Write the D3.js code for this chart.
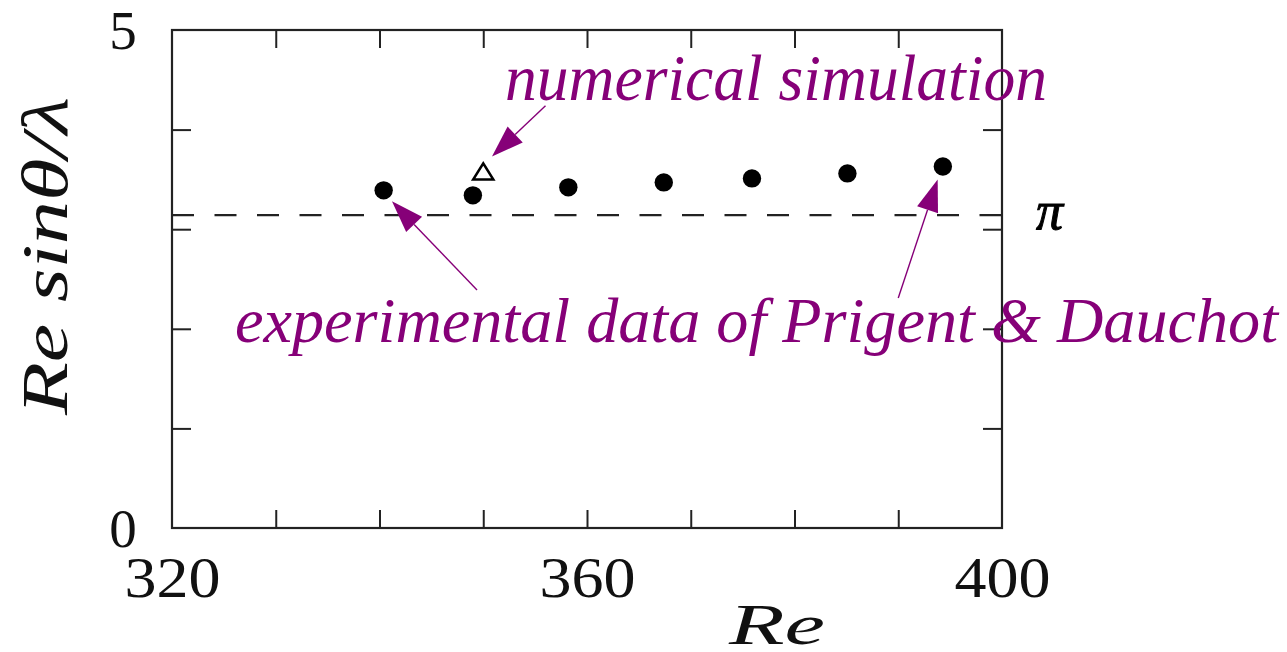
<!DOCTYPE html>
<html>
<head>
<meta charset="utf-8">
<script src="https://cdn.jsdelivr.net/npm/d3@7/dist/d3.min.js"></script>
<style>
  html, body { margin: 0; padding: 0; background: #fff; }
  svg { display: block; }
</style>
</head>
<body>
<svg id="chart" width="1287" height="652"></svg>
<script>
// Reynolds number of each measurement
const expRe = [340.4, 349.0, 358.2, 367.4, 375.9, 385.1, 394.3];
// Re sin(theta)/lambda for the experimental points
const expValues = [3.39, 3.34, 3.42, 3.47, 3.51, 3.56, 3.63];
// numerical simulation point
const simRe = [350.0];
const simValues = [3.58];
// reference level
const piLevel = [Math.PI];
// axis tick labels and minor ticks
const xLabelTicks = [320, 360, 400];
const xInnerTicks = [330, 340, 350, 360, 370, 380, 390];
const yLabelTicks = [0, 5];
const yInnerTicks = [1, 2, 3, 4];

const svg = d3.select("#chart");
const ink = "#222";
const purple = "#860078";

const x = d3.scaleLinear().domain([320, 400]).range([172, 1002]);
const y = d3.scaleLinear().domain([0, 5]).range([528, 30]);

// frame
svg.append("rect")
  .attr("x", x(320)).attr("y", y(5))
  .attr("width", x(400) - x(320)).attr("height", y(0) - y(5))
  .attr("fill", "none").attr("stroke", ink).attr("stroke-width", 2.2);

// inward ticks on all four sides
function innerTicks(axis, transform) {
  const g = svg.append("g").attr("transform", transform).call(axis);
  g.select(".domain").remove();
  g.selectAll("text").remove();
  g.selectAll("line").attr("stroke", ink).attr("stroke-width", 2);
}
innerTicks(d3.axisBottom(x).tickValues(xInnerTicks).tickSize(-18), `translate(0,${y(0)})`);
innerTicks(d3.axisTop(x).tickValues(xInnerTicks).tickSize(-18), `translate(0,${y(5)})`);
innerTicks(d3.axisLeft(y).tickValues(yInnerTicks).tickSize(-19), `translate(${x(320)},0)`);
innerTicks(d3.axisRight(y).tickValues(yInnerTicks).tickSize(-19), `translate(${x(400)},0)`);

// tick labels
const xl = svg.append("g").attr("transform", `translate(0,${y(0)})`)
  .call(d3.axisBottom(x).tickValues(xLabelTicks).tickSize(0).tickPadding(0).tickFormat(d3.format("d")));
xl.select(".domain").remove();
xl.selectAll("text")
  .attr("dy", null).attr("y", 69)
  .attr("font-family", "'Liberation Serif', serif").attr("font-size", 57)
  .attr("fill", "#111")
  .attr("textLength", 96).attr("lengthAdjust", "spacingAndGlyphs");

const yl = svg.append("g").attr("transform", `translate(${x(320)},0)`)
  .call(d3.axisLeft(y).tickValues(yLabelTicks).tickSize(0).tickPadding(0).tickFormat(d3.format("d")));
yl.select(".domain").remove();
yl.selectAll("text")
  .attr("text-anchor", "middle").attr("x", -49).attr("dy", "0.33em")
  .attr("font-family", "'Liberation Serif', serif").attr("font-size", 55)
  .attr("fill", "#111");

// dashed reference line
svg.selectAll(".ref").data(piLevel).enter().append("line")
  .attr("x1", x(320)).attr("x2", x(400))
  .attr("y1", d => y(d)).attr("y2", d => y(d))
  .attr("stroke", ink).attr("stroke-width", 2.4)
  .attr("stroke-dasharray", "22,20.5");

svg.append("text")
  .attr("x", x(400) + 34).attr("y", y(Math.PI) + 14)
  .attr("font-family", "'Liberation Serif', serif").attr("font-style", "italic")
  .attr("font-size", 54).attr("fill", "#000").attr("stroke", "#000").attr("stroke-width", 1)
  .text("π");

// experimental points
svg.selectAll(".exp").data(expRe).enter().append("circle")
  .attr("cx", d => x(d)).attr("cy", (d, i) => y(expValues[i]))
  .attr("r", 9.2).attr("fill", "#000");

// simulation point (open triangle)
const triW = 20, triH = 16;
svg.selectAll(".sim").data(simRe).enter().append("path")
  .attr("d", (d, i) => {
    const cx = x(d), cy = y(simValues[i]);
    return `M${cx},${cy - triH / 2}L${cx + triW / 2},${cy + triH / 2}L${cx - triW / 2},${cy + triH / 2}Z`;
  })
  .attr("fill", "#fff").attr("stroke", "#000").attr("stroke-width", 2.6)
  .attr("stroke-linejoin", "miter");

// annotation arrows (tip and tail in data units)
const arrows = [
  { tip: [350.84, 3.73], tail: [356.0, 4.24] },
  { tip: [341.2, 3.28], tail: [349.4, 2.39] },
  { tip: [393.8, 3.50], tail: [390.0, 2.31] }
];
arrows.forEach(a => {
  const tx = x(a.tip[0]), ty = y(a.tip[1]);
  const sx = x(a.tail[0]), sy = y(a.tail[1]);
  const dx = sx - tx, dy = sy - ty, len = Math.hypot(dx, dy);
  const ux = dx / len, uy = dy / len;
  const headL = 32, headW = 11;
  const bx = tx + ux * headL, by = ty + uy * headL;
  svg.append("line")
    .attr("x1", bx).attr("y1", by).attr("x2", sx).attr("y2", sy)
    .attr("stroke", purple).attr("stroke-width", 1.4);
  svg.append("path")
    .attr("d", `M${tx},${ty}L${bx - uy * headW},${by + ux * headW}L${bx + uy * headW},${by - ux * headW}Z`)
    .attr("fill", purple);
});

// annotation labels
svg.append("text")
  .attr("x", 505).attr("y", 100)
  .attr("font-family", "'Liberation Serif', serif").attr("font-style", "italic")
  .attr("font-size", 66).attr("fill", purple)
  .attr("textLength", 542).attr("lengthAdjust", "spacingAndGlyphs")
  .text("numerical simulation");

svg.append("text")
  .attr("x", 235).attr("y", 342)
  .attr("font-family", "'Liberation Serif', serif").attr("font-style", "italic")
  .attr("font-size", 64).attr("fill", purple)
  .attr("textLength", 1043).attr("lengthAdjust", "spacingAndGlyphs")
  .text("experimental data of Prigent & Dauchot");

// axis titles
svg.append("text")
  .attr("x", 729).attr("y", 644)
  .attr("font-family", "'Liberation Serif', serif").attr("font-style", "italic")
  .attr("font-size", 58).attr("fill", "#111")
  .attr("textLength", 96).attr("lengthAdjust", "spacingAndGlyphs")
  .text("Re");

svg.append("text")
  .attr("transform", "translate(67,415) rotate(-90)")
  .attr("font-family", "'Liberation Serif', serif").attr("font-style", "italic")
  .attr("font-size", 66).attr("fill", "#111")
  .attr("textLength", 318).attr("lengthAdjust", "spacingAndGlyphs")
  .text("Re sinθ/λ");
</script>
</body>
</html>
